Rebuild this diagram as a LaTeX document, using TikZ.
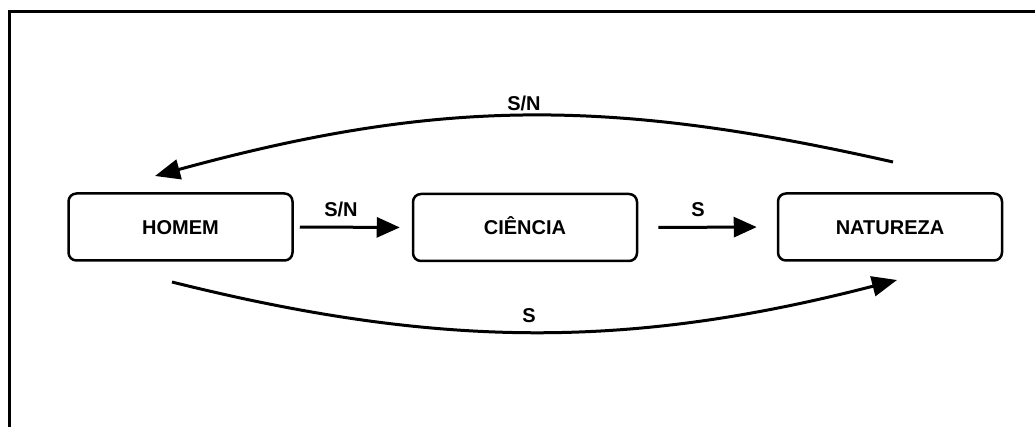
\documentclass[tikz,border=0pt]{standalone}
\usepackage{fontspec}
\setmainfont{Liberation Sans}
\usetikzlibrary{arrows.meta}
\tikzset{
  box/.style={draw, line width=2.5pt, rounded corners=8pt, minimum width=224pt, minimum height=67pt, inner sep=0pt,
    text height=14.3pt, text depth=0pt, font=\fontsize{20}{20}\selectfont\bfseries},
  lbl/.style={inner sep=0pt, text height=14.3pt, text depth=0pt, font=\fontsize{20}{20}\selectfont\bfseries},
  conn/.style={line width=3pt, -{Triangle[length=23pt, width=20pt]}},
  frame/.style={line width=3.5pt}
}
\begin{document}
\begin{tikzpicture}[x=1pt, y=-1pt]
\useasboundingbox (0,0) rectangle (1035,427);
% frame (cropped at right and bottom)
\draw[frame] (9.5,431) -- (9.5,11.5) -- (1040,11.5);
% nodes
\node[box] (homem) at (180.5,227) {HOMEM};
\node[box] (ciencia) at (525,227.5) {CIÊNCIA};
\node[box] (natureza) at (890,227) {NATUREZA};
% straight connectors
\draw[conn, shorten <=6pt, shorten >=12pt] (homem.east) -- (ciencia.west);
\draw[conn, shorten <=20pt, shorten >=20pt] (ciencia.east) -- (natureza.west);
\node[lbl] (l1) at (341,209) {S/N};
\node[lbl] (l2) at (698,209) {S};
% curved connectors
\coordinate (topstart) at (893,162);
\coordinate (topend) at (155,176);
\coordinate (botstart) at (172,282);
\coordinate (botend) at (897,280);
\draw[conn, -{Triangle[length=25pt, width=20pt]}] (topstart) .. controls (610,98) and (440,98) .. (topend);
\draw[conn, -{Triangle[length=25pt, width=20pt]}] (botstart) .. controls (440,349) and (630,349) .. (botend);
\node[lbl] (l3) at (524,103) {S/N};
\node[lbl] (l4) at (529,315) {S};
\end{tikzpicture}
\end{document}
